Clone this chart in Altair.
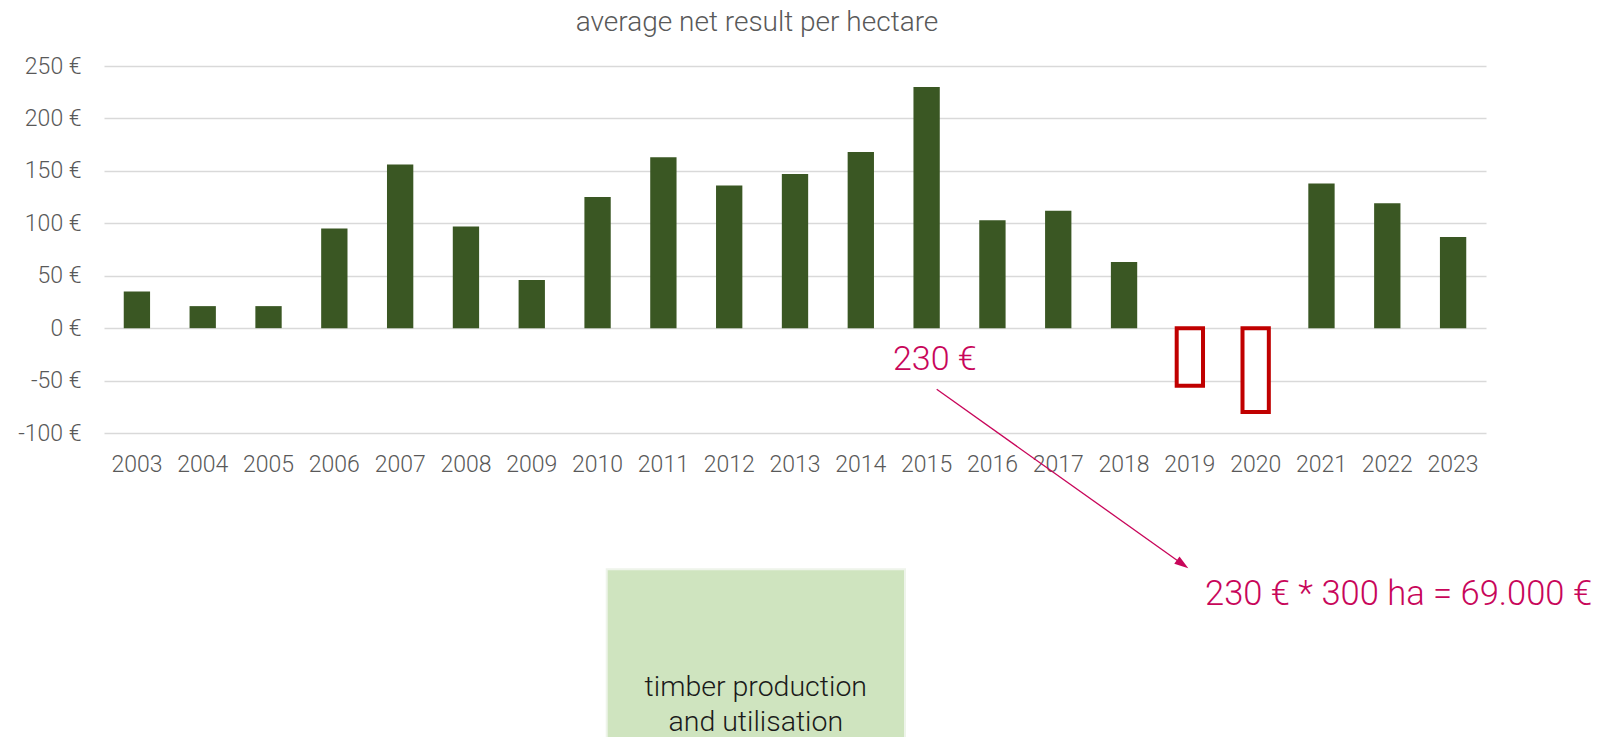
import altair as alt
import pandas as pd

# ---- data ----
years = [str(y) for y in range(2003, 2024)]
net_result = [35, 21, 21, 95, 156, 97, 46, 125, 163, 136, 147, 168, 230,
              103, 112, 63, -55, -80, 138, 119, 87]
y_ticks = [-100, -50, 0, 50, 100, 150, 200, 250]

title_text = "average net result per hectare"
callout_text = ["230 €"]
calc_text = ["230 € * 300 ha = 69.000 €"]
box_text = [["timber production", "and utilisation"]]

FONT = "Roboto"
GREY = "#595959"
CRIMSON = "#C8065A"

df = pd.DataFrame({"year": years, "value": net_result})

W, H = 1382, 367

x_enc = alt.X("year:N", sort=years,
              scale=alt.Scale(paddingInner=0.6, paddingOuter=0.3),
              axis=alt.Axis(title=None, labelAngle=0, ticks=False, domain=False,
                            labelFontSize=23, labelPadding=20, labelColor=GREY,
                            labelFont=FONT, labelFontWeight=300, grid=False))
y_enc = alt.Y("value:Q",
              scale=alt.Scale(domain=[-100, 250], nice=False),
              axis=alt.Axis(title=None, values=y_ticks, ticks=False, domain=False,
                            labelExpr="datum.value + ' €'", labelFontSize=23,
                            labelPadding=23, labelColor=GREY, labelFont=FONT,
                            labelFontWeight=300, gridColor="#D9D9D9",
                            gridWidth=1.5))

base = alt.Chart(df)
pos_bars = base.transform_filter("datum.value >= 0").mark_bar(
    color="#3A5723").encode(x=x_enc, y=y_enc)
neg_bars = base.transform_filter("datum.value < 0").mark_bar(
    fill="white", stroke="#C00000", strokeWidth=4).encode(x=x_enc, y=y_enc)

one = pd.DataFrame({"k": [0]})

callout = alt.Chart(pd.DataFrame({"t": callout_text})).mark_text(
    align="left", baseline="alphabetic", fontSize=34, font=FONT,
    fontWeight=300, color=CRIMSON).encode(
    x=alt.value(789), y=alt.value(304), text="t:N")

arrow_line = alt.Chart(one).mark_rule(color=CRIMSON, strokeWidth=1.3).encode(
    x=alt.value(832.7), y=alt.value(323.3), x2=alt.value(1078.6), y2=alt.value(498.2))

arrow_head = alt.Chart(one).mark_point(
    shape="M1,0 L-1,-0.65 L-1,0.65 Z", filled=True, opacity=1,
    color=CRIMSON, size=196, angle=35.4).encode(
    x=alt.value(1078.6), y=alt.value(498.2))

calc = alt.Chart(pd.DataFrame({"t": calc_text})).mark_text(
    align="left", baseline="alphabetic", fontSize=34.5, font=FONT,
    fontWeight=300, color=CRIMSON).encode(
    x=alt.value(1101), y=alt.value(539), text="t:N")

box = alt.Chart(one).mark_rect(fill="#CFE4BF", stroke="#EEF4EA", strokeWidth=2).encode(
    x=alt.value(502.7), x2=alt.value(801), y=alt.value(503.3), y2=alt.value(690))

box_label = alt.Chart(pd.DataFrame({"t": box_text})).mark_text(
    align="center", baseline="alphabetic", fontSize=28.5, font=FONT,
    fontWeight=300, color="#1A1A1A", lineHeight=35).encode(
    x=alt.value(651.8), y=alt.value(630), text="t")

chart = alt.layer(
    pos_bars, neg_bars, callout, arrow_line, arrow_head, calc, box, box_label
).properties(
    width=W, height=H,
    title=alt.TitleParams(title_text, fontSize=28, font=FONT, fontWeight=300,
                          color=GREY, anchor="middle", dx=-38, offset=-4,
                          baseline="alphabetic"),
    autosize=alt.AutoSizeParams(type="none"),
    padding={"left": 96, "top": 58, "right": 109, "bottom": 304},
).configure_view(stroke=None)

chart.save("out.html", embed_options={"renderer": "svg", "actions": False})
